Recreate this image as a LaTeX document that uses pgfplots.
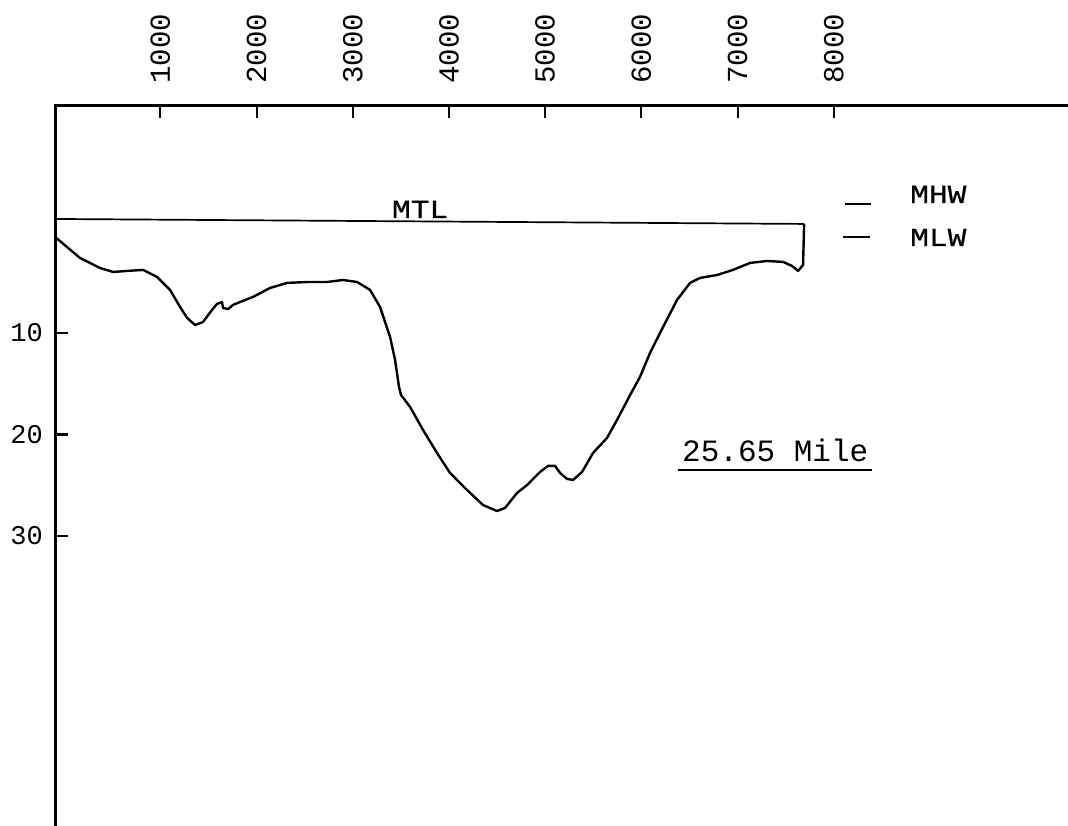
\documentclass[border=0pt]{standalone}
\usepackage{fontspec}
\setmainfont{Liberation Serif}
\setmonofont{Liberation Mono}
\newfontfamily\slab[FakeStretch=1.2,FakeBold=0.6]{Liberation Mono}
\usepackage{pgfplots}
\pgfplotsset{compat=1.18}
\begin{document}
\begin{tikzpicture}[x=1pt,y=1pt]
\path[use as bounding box] (0,0) rectangle (1068,826);
\begin{axis}[
  at={(55pt,0pt)}, anchor=south west,
  scale only axis, width=1013pt, height=720pt,
  xmin=-95, xmax=10435, ymin=-58.57, ymax=12.36,
  axis x line=top, axis y line=left,
  axis line style={-, line width=3pt},
  xtick={1000,2000,3000,4000,5000,6000,7000,8000},
  xticklabels={1000,2000,3000,4000,5000,6000,7000,8000},
  ytick={-10,-20,-30}, yticklabels={10,20,30},
  scaled ticks=false,
  xtick align=inside, ytick align=inside,
  major tick length=12pt,
  every tick/.style={line width=2pt, black},
  xticklabel style={rotate=90, anchor=west, inner sep=0pt, font=\fontsize{29}{34}\selectfont\ttfamily},
  xticklabel shift=22pt,
  yticklabel style={anchor=east, inner sep=0pt, font=\fontsize{27}{32}\selectfont\ttfamily},
  yticklabel shift=12pt,
  clip=false,
]
% axis frame (left and top) and depth ticks
\draw[black, line width=3pt] (rel axis cs:0,0) -- (rel axis cs:0,1) -- (rel axis cs:1,1);
\draw[black, line width=2.2pt] (axis cs:-95,-10) -- (axis cs:40,-10);
\draw[black, line width=2.2pt] (axis cs:-95,-20) -- (axis cs:40,-20);
\draw[black, line width=2.2pt] (axis cs:-95,-30) -- (axis cs:40,-30);
% bottom profile (depth in ft, negative downward)
\addplot[black, line width=2.4pt, line join=round] coordinates {
(-95,-0.54) (165,-2.61) (373,-3.60) (508,-3.99) (654,-3.89) (820,-3.79)
(966,-4.48) (1101,-5.76) (1205,-7.44) (1278,-8.52) (1361,-9.21) (1444,-8.92)
(1537,-7.73) (1589,-7.14) (1641,-6.95) (1652,-7.54) (1704,-7.64) (1756,-7.24)
(1828,-6.95) (1964,-6.45) (2140,-5.57) (2317,-5.07) (2525,-4.98) (2733,-4.98)
(2899,-4.78) (3045,-4.98) (3180,-5.76) (3284,-7.44) (3388,-10.39) (3440,-12.66)
(3481,-15.32) (3502,-16.11) (3596,-17.29) (3731,-19.56) (3876,-21.82) (4011,-23.79)
(4188,-25.47) (4354,-26.95) (4500,-27.54) (4583,-27.24) (4708,-25.76) (4812,-24.98)
(4947,-23.69) (5030,-23.10) (5103,-23.10) (5155,-23.79) (5228,-24.38) (5290,-24.48)
(5384,-23.69) (5498,-21.82) (5643,-20.34) (5747,-18.57) (5883,-16.11) (5986,-14.33)
(6090,-11.97) (6226,-9.41) (6371,-6.75) (6506,-5.07) (6610,-4.58) (6787,-4.29)
(6953,-3.79) (7130,-3.10) (7307,-2.91) (7473,-3.00) (7567,-3.40) (7629,-3.89)
(7681,-3.30) (7692,0.74)
};
% MTL line
\addplot[black, line width=1.7pt] coordinates {(-95,1.23) (7692,0.74)};
\node[anchor=base, inner sep=0pt, font=\fontsize{26}{30}\selectfont\slab] at (axis cs:3700,1.33) {MTL};
% MHW / MLW marks
\draw[black, line width=1.7pt] (axis cs:8117,2.71) -- (axis cs:8387,2.71);
\draw[black, line width=1.7pt] (axis cs:8096,-0.54) -- (axis cs:8377,-0.54);
\node[anchor=base west, inner sep=0pt, font=\fontsize{26}{30}\selectfont\slab] at (axis cs:8793,2.81) {MHW};
\node[anchor=base west, inner sep=0pt, font=\fontsize{26}{30}\selectfont\slab] at (axis cs:8793,-1.43) {MLW};
% station label
\node[anchor=base west, inner sep=0pt, font=\fontsize{31}{36}\selectfont\ttfamily] at (axis cs:6423,-22.71) {25.65 Mile};
\draw[black, line width=2.2pt] (axis cs:6382,-23.5) -- (axis cs:8398,-23.5);
\end{axis}
\end{tikzpicture}
\end{document}
